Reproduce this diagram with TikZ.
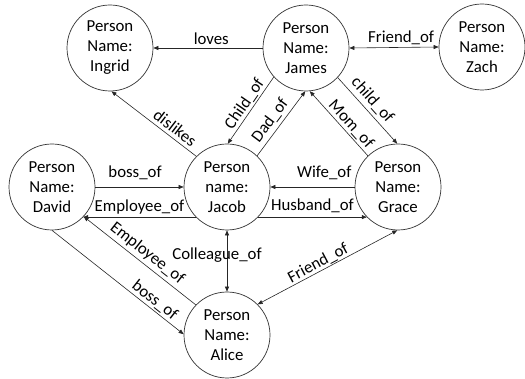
\documentclass[tikz,border=0pt]{standalone}
\usepackage{fontspec}
\setmainfont{Carlito}
\usetikzlibrary{arrows.meta}
\begin{document}
\begin{tikzpicture}[x=1pt,y=-1pt,
  person/.style={circle,draw=black!80,line width=0.7pt,minimum size=86pt,inner sep=0pt,
    align=center,font=\fontsize{16.8}{20}\selectfont},
  rel/.style={draw=black!85,line width=0.6pt},
  tip/.style={-{Triangle[length=5pt,width=4pt]}},
  pit/.style={{Triangle[length=5pt,width=4pt]}-},
  both/.style={{Triangle[length=5pt,width=4pt]}-{Triangle[length=5pt,width=4pt]}},
  lbl/.style={font=\fontsize{16.8}{20}\selectfont,inner sep=0pt,anchor=base},
  slbl/.style={lbl,sloped}]
\path[use as bounding box] (0,0) rectangle (525,379);

% people
\node[person] (I) at (110,48)  {Person\\Name:\\Ingrid};
\node[person] (J) at (306,48)  {Person\\Name:\\James};
\node[person] (Z) at (482,47)  {Person\\Name:\\Zach};
\node[person] (D) at (52,187)  {Person\\Name:\\David};
\node[person] (C) at (227,187) {Person\\name:\\Jacob};
\node[person] (G) at (398,187) {Person\\Name:\\Grace};
\node[person] (A) at (227,335) {Person\\Name:\\Alice};

% relations along the top row
\draw[rel,pit] (I.0) -- node[lbl,pos=.53,yshift=3.5pt] {loves} (J.180);
\draw[rel,both] (J.0) -- node[lbl,pos=.58,yshift=5pt] {Friend\_of} (Z.180);

% relations around James
\draw[rel,pit] (I.-88) -- node[slbl,pos=.68,yshift=4pt] {dislikes} (C.135);
\draw[rel,pit] (C.89) -- node[slbl,pos=.52,yshift=4pt] {Child\_of} (J.222);
\draw[rel,tip] (C.46) -- node[slbl,pos=.45,yshift=6pt] {Dad\_of} (J.-91);
\draw[rel,pit] (J.-85) -- node[slbl,pos=.6,yshift=4pt] {Mom\_of} (G.134);
\draw[rel,tip] (J.-43) -- node[slbl,pos=.45,yshift=6pt] {child\_of} (G.91);

% middle row
\draw[rel,tip] (D.0) -- node[lbl,pos=.45,yshift=9pt] {boss\_of} (C.180);
\draw[rel,pit] (D.-44) -- node[lbl,pos=.5,yshift=6pt] {Employee\_of} (C.224);
\draw[rel,pit] (C.0) -- node[lbl,pos=.64,yshift=9pt] {Wife\_of} (G.180);
\draw[rel,tip] (C.-44) -- node[lbl,pos=.5,yshift=7pt] {Husband\_of} (G.224);

% relations down to Alice
\draw[rel,both] (C.270) -- node[lbl,pos=.45,xshift=-10pt,yshift=-2pt] {Colleague\_of} (A.90);
\draw[rel,pit] (D.-43) -- node[slbl,pos=.51,yshift=6pt] {Employee\_of} (A.136);
\draw[rel,tip] (D.-90) -- node[slbl,pos=.74,yshift=4pt] {boss\_of} (A.179);
\draw[rel,both] (A.45) -- node[slbl,pos=.46,yshift=3pt] {Friend\_of} (G.-91);
\end{tikzpicture}
\end{document}
